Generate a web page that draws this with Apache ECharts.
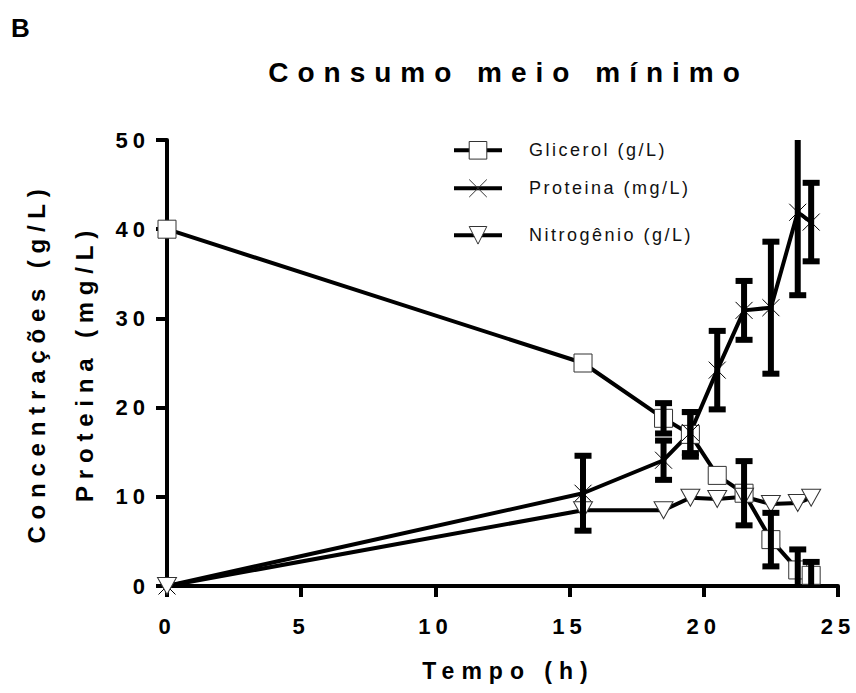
<!DOCTYPE html>
<html>
<head>
<meta charset="utf-8">
<script src="https://cdn.jsdelivr.net/npm/echarts@6/dist/echarts.min.js"></script>
<style>
  html, body { margin: 0; padding: 0; background: #fff; }
  #chart { width: 856px; height: 693px; }
  /* tracked lettering, keyed by font size */
  #chart text[style*="28px"] { letter-spacing: 9px; }
  #chart text[style*="24px"] { letter-spacing: 6.8px; }
  #chart text[style*="23px"] { letter-spacing: 7px; }
  #chart text[style*="22px"] { letter-spacing: 5px; }
  #chart text[style*="18px"] { letter-spacing: 2.5px; }
</style>
</head>
<body>
<div id="chart"></div>
<script>
// Sampling times (h)
const hours = [0, 15.5, 18.5, 19.5, 20.5, 21.5, 22.5, 23.5, 24];

// Glicerol (g/L), mean and error
const glicerol    = [40, 25, 18.8, 17.0, 12.4, 10.4, 5.2, 1.8, 1.2];
const glicerolErr = [0, 0, 1.7, 2.5, 0, 3.6, 3.0, 2.3, 1.5];

// Proteina (mg/L), mean and error
const proteina    = [0, 10.4, 14.1, 17.2, 24.2, 30.9, 31.2, 41.9, 40.8];
const proteinaErr = [0, 4.2, 2.2, 2.3, 4.4, 3.3, 7.4, 9.3, 4.4];

// Nitrogênio (g/L), mean and error
const nitrogenio    = [0, 8.5, 8.5, 9.9, 9.75, 10.0, 9.2, 9.3, 9.9];
const nitrogenioErr = [0, 0, 0, 0, 0, 0, 0, 0, 0];

// Axis ranges
const xMin = 0, xMax = 25, xStep = 5;
const yMin = 0, yMax = 50, yStep = 10;

const seriesNames = ['Glicerol (g/L)', 'Proteina (mg/L)', 'Nitrogênio (g/L)'];

const FONT = 'Liberation Sans, Arial, sans-serif';
const SQUARE = 'rect';
const CROSS = 'path://M0,0L10,10M0,10L10,0';
const TRI_DOWN = 'path://M0,0L20,0L10,18Z';

function points(ys) {
  return hours.map((h, i) => [h, ys[i]]);
}

function errorBars(ys, errs) {
  const out = [];
  hours.forEach((h, i) => {
    if (errs[i] > 0) out.push([h, ys[i] - errs[i], ys[i] + errs[i]]);
  });
  return out;
}

function renderErrorBar(params, api) {
  const x = api.value(0);
  const top = api.coord([x, api.value(2)]);
  const bottom = api.coord([x, api.value(1)]);
  const capW = 17, capH = 6;
  return {
    type: 'group',
    children: [
      { type: 'line', shape: { x1: top[0], y1: top[1], x2: bottom[0], y2: bottom[1] },
        style: { stroke: '#000', lineWidth: 6 } },
      { type: 'rect', shape: { x: top[0] - capW / 2, y: top[1] - capH / 2, width: capW, height: capH },
        style: { fill: '#000' } },
      { type: 'rect', shape: { x: bottom[0] - capW / 2, y: bottom[1] - capH / 2, width: capW, height: capH },
        style: { fill: '#000' } }
    ]
  };
}

function lineSeries(name, ys, symbol, size, border) {
  return {
    name: name,
    type: 'line',
    data: points(ys),
    symbol: symbol,
    symbolSize: size,
    showAllSymbol: true,
    z: 2,
    lineStyle: { color: '#000', width: 4 },
    itemStyle: { color: '#fff', borderColor: border, borderWidth: 1 },
    emphasis: { disabled: true }
  };
}

function errorSeries(ys, errs) {
  return {
    type: 'custom',
    renderItem: renderErrorBar,
    data: errorBars(ys, errs),
    encode: { x: 0, y: [1, 2] },
    clip: true,
    z: 3,
    silent: true
  };
}

function legendRow(name, top) {
  return {
    data: [name],
    left: 452,
    top: top,
    padding: 0,
    itemWidth: 48,
    itemHeight: 22,
    selectedMode: false,
    textStyle: { fontFamily: FONT, fontSize: 18, color: '#111', padding: [0, 0, 0, 22] },
    lineStyle: { color: '#000', width: 4 },
    itemStyle: { color: '#fff', borderColor: '#333', borderWidth: 1 }
  };
}

const chart = echarts.init(document.getElementById('chart'), null, { renderer: 'svg' });

chart.setOption({
  animation: false,
  backgroundColor: '#fff',
  graphic: [
    { type: 'text', x: 11, y: 28, style: { text: 'B', font: 'bold 26px ' + FONT, fill: '#000', align: 'left', verticalAlign: 'middle' } },
    { type: 'text', x: 508.5, y: 72.5, style: { text: 'Consumo meio mínimo', font: 'bold 28px ' + FONT, fill: '#000', align: 'center', verticalAlign: 'middle' } }
  ],
  legend: [
    legendRow(seriesNames[0], 141),
    legendRow(seriesNames[1], 179),
    legendRow(seriesNames[2], 226)
  ],
  grid: { left: 167, right: 18, top: 140, bottom: 107, containLabel: false },
  xAxis: {
    type: 'value',
    min: xMin, max: xMax, interval: xStep,
    name: 'Tempo (h)',
    nameLocation: 'middle',
    nameGap: 73,
    nameTextStyle: { fontFamily: FONT, fontSize: 23, fontWeight: 'bold', color: '#000', padding: [0, 0, 0, 12] },
    axisLine: { show: true, onZero: false, lineStyle: { color: '#000', width: 4 } },
    axisTick: { show: true, length: 11, lineStyle: { color: '#000', width: 4 } },
    axisLabel: { fontFamily: FONT, fontSize: 22, fontWeight: 'bold', color: '#000', margin: 29 },
    splitLine: { show: false }
  },
  yAxis: {
    type: 'value',
    min: yMin, max: yMax, interval: yStep,
    name: 'Concentrações (g/L)\nProteina (mg/L)',
    nameLocation: 'middle',
    nameGap: 59,
    nameTextStyle: { fontFamily: FONT, fontSize: 24, fontWeight: 'bold', color: '#000', lineHeight: 48 },
    axisLine: { show: true, onZero: false, lineStyle: { color: '#000', width: 4 } },
    axisTick: { show: true, length: 11, lineStyle: { color: '#000', width: 4 } },
    axisLabel: { fontFamily: FONT, fontSize: 22, fontWeight: 'bold', color: '#000', margin: 17 },
    splitLine: { show: false }
  },
  series: [
    lineSeries(seriesNames[0], glicerol, SQUARE, 18, '#333'),
    lineSeries(seriesNames[1], proteina, CROSS, 17, '#000'),
    lineSeries(seriesNames[2], nitrogenio, TRI_DOWN, [19, 17], '#333'),
    errorSeries(glicerol, glicerolErr),
    errorSeries(proteina, proteinaErr),
    errorSeries(nitrogenio, nitrogenioErr)
  ]
});
</script>
</body>
</html>
